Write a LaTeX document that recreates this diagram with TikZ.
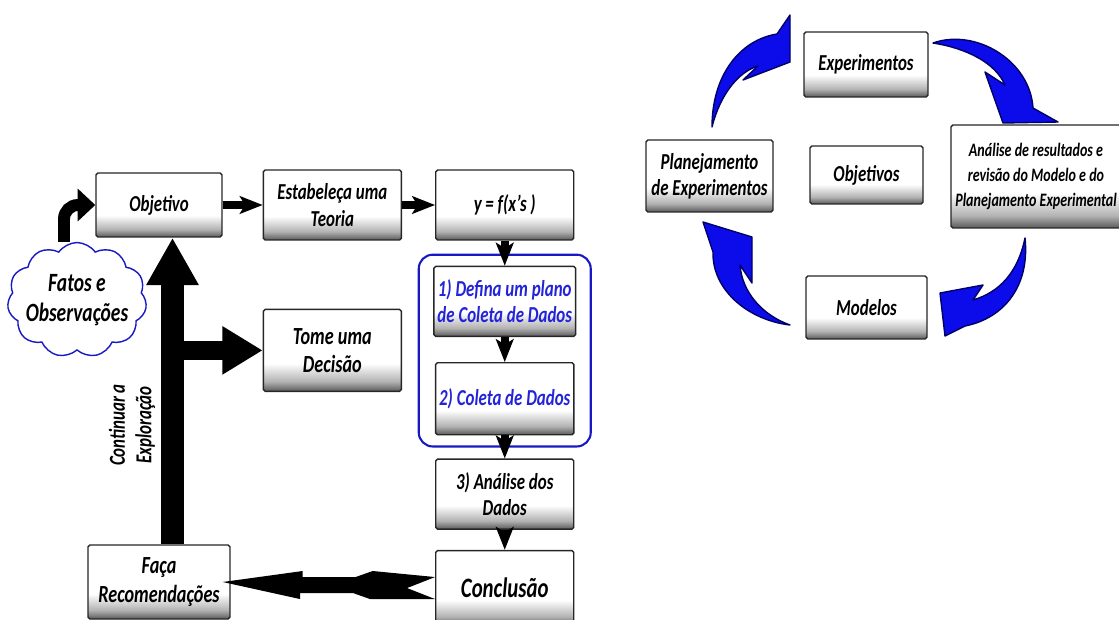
\documentclass[tikz,border=0pt]{standalone}
\usepackage{fontspec}
\setmainfont{Carlito}[FakeStretch=0.74, BoldFeatures={FakeStretch=0.74}, ItalicFeatures={FakeStretch=0.74}, BoldItalicFeatures={FakeStretch=0.74}]
\usetikzlibrary{positioning, fit, calc, arrows.meta, shapes.symbols}

\definecolor{cycleblue}{RGB}{12,12,235}
\definecolor{textblue}{RGB}{35,35,215}
\definecolor{frameblue}{RGB}{25,25,195}

\pgfdeclareverticalshading{boxshade}{100bp}{color(0bp)=(black!65); color(25bp)=(black!65); color(31bp)=(black!30); color(42bp)=(white); color(100bp)=(white)}

\begin{document}
\begin{tikzpicture}[x=0.02cm, y=-0.02cm,
            box/.style={draw=black!85, thick, rounded corners=1pt, shade, shading=boxshade, align=center,
                minimum width=2.76cm, minimum height=1.4cm, inner sep=2pt,
                font=\bfseries\itshape\fontsize{13}{15}\selectfont},
            arrow/.style={-{Stealth[length=13pt, width=10pt, inset=3pt]}, line width=4.5pt},
            bigarrow/.style={-{Triangle[length=27pt, width=28pt]}, line width=13pt},
            sidearrow/.style={-{Triangle[length=23pt, width=26pt]}, line width=11pt},
            bentarrow/.style={-{Triangle[length=10pt, width=18pt]}, line width=6.8pt, rounded corners=8pt},
            cyclearrow/.style={fill=cycleblue, draw=black!60!blue, thick, line join=round}
        ]
            \useasboundingbox (0,0) rectangle (1119,619);

            % left: the flow of the study
            \node [box, minimum width=2.52cm, minimum height=1.28cm] (obj) at (159,205) {Objetivo};
            \node [box, right=0.8cm of obj] (teoria) {Estabeleça uma\\Teoria};
            \node [box, right=0.66cm of teoria] (yf) {y\,=\,f(x’s\,)};
            \node [box, below=0.5cm of yf, text=textblue] (defina) {1)\,Defina um plano\\de Coleta de Dados};
            \node [box, below=0.5cm of defina, minimum height=1.44cm, text=textblue] (coleta) {2) Coleta de Dados};
            \node [box, below=0.46cm of coleta] (analise) {3) Análise dos\\Dados};
            \node [box, below=0.4cm of analise, minimum height=1.5cm, font=\bfseries\itshape\fontsize{16}{18}\selectfont] (conc) {Conclusão};
            \node [box, minimum width=2.84cm, minimum height=1.48cm, font=\bfseries\itshape\fontsize{14}{17}\selectfont] (faca) at (159,582) {Faça\\Recomendações};
            \node [box, below=1.36cm of teoria, minimum height=1.64cm, font=\bfseries\itshape\fontsize{14}{16}\selectfont] (tome) {Tome uma\\Decisão};
            \node [cloud, draw=frameblue, thick, fill=white, cloud puffs=11, cloud puff arc=110, aspect=1.3,
                inner sep=-3pt, minimum width=2.7cm, minimum height=2cm, align=center,
                font=\bfseries\itshape\fontsize{15}{17}\selectfont] (cloud) at (77,300) {Fatos e\\Observações};
            \node [rotate=90, align=center, font=\bfseries\itshape\fontsize{13}{15}\selectfont] (cont) at (132,425) {Continuar a\\Exploração};

            \node [fit=(defina)(coleta), draw=frameblue, very thick, rounded corners=8pt, inner xsep=0.29cm, inner ysep=0.22cm] (frame) {};

            \draw [arrow] (obj) -- (teoria);
            \draw [arrow] (teoria) -- (yf);
            \draw [arrow] (yf) -- (defina);
            \draw [arrow] (defina) -- (coleta);
            \draw [arrow] (coleta) -- (analise);
            \draw [arrow] (analise) -- (conc);
            \draw [bentarrow] ([xshift=-0.26cm]cloud.north) |- (obj.west);

            \coordinate (trunk) at ([xshift=0.27cm]faca.north);
            \draw [bigarrow] (trunk) -- (trunk |- obj.south);
            \draw [sidearrow] (trunk |- tome.west) -- (tome.west);

            \fill ([xshift=-0.16cm]faca.east) -- ++(80,-11) -- ++(0,6) -- ++(53,0) -- ++(17,-6)
                -- ($(conc.west)+(0,-11)$) -- ++(-28,11) -- ++(28,11) -- ++(-65,0) -- ++(-17,-6)
                -- ++(-53,0) -- ++(0,6) -- cycle;

            % right: the cycle
            \node [box, minimum width=2.48cm, minimum height=1.3cm] (exp) at (866,64.5) {Experimentos};
            \node [box, minimum width=2.54cm, minimum height=1.44cm] (plan) at (709.5,176) {Planejamento\\de Experimentos};
            \node [box, minimum width=2.26cm, minimum height=1.16cm] (objs) at (866.5,175) {Objetivos};
            \node [box, minimum width=3.4cm, minimum height=2.06cm, font=\bfseries\itshape\fontsize{10.8}{14}\selectfont] (ana) at (1036,176.5) {Análise de resultados e\\revisão do Modelo e do\\Planejamento Experimental};
            \node [box, minimum width=2.42cm, minimum height=1.26cm] (mod) at (866.5,307.5) {Modelos};

            \draw [cyclearrow] (712,127) .. controls (712,75) and (740,40) .. (777,34) -- (790,15) -- (790,62)
                -- (743,80) -- (758,66) .. controls (738,72) and (720,95) .. (712,127) -- cycle;
            \draw [cyclearrow] (933,43) .. controls (975,28) and (1030,60) .. (1033,108) -- (1058,122) -- (1003,123)
                -- (985,72) -- (1005,85) .. controls (995,62) and (965,48) .. (933,43) -- cycle;
            \draw [cyclearrow] (1025,238) .. controls (1030,285) and (1005,318) .. (965,326) -- (945,336) -- (940,293)
                -- (983,285) -- (973,300) .. controls (1000,292) and (1018,272) .. (1025,238) -- cycle;
            \draw [cyclearrow] (790,325) .. controls (748,320) and (712,290) .. (713,252) -- (703,222) -- (752,237)
                -- (752,283) -- (740,265) .. controls (742,292) and (762,315) .. (790,325) -- cycle;

        \end{tikzpicture}
\end{document}
